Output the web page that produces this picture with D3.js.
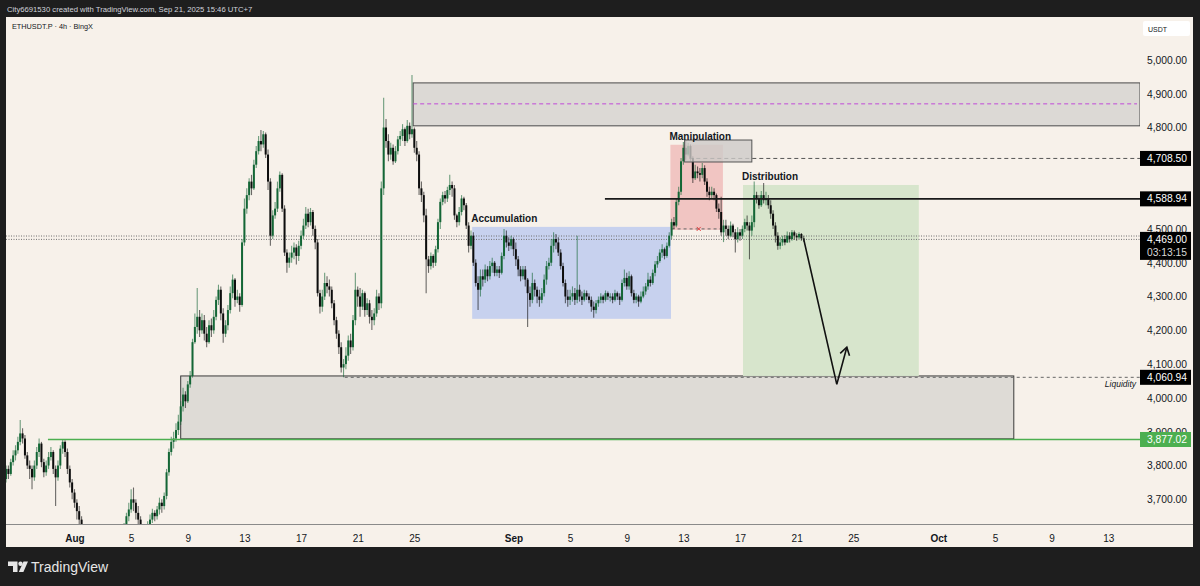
<!DOCTYPE html>
<html>
<head>
<meta charset="utf-8">
<script src="https://cdn.jsdelivr.net/npm/d3@7"></script>
<style>
    html, body { margin: 0; padding: 0; background: #1e1e1e; }
    svg { display: block; font-family: "Liberation Sans", Arial, sans-serif; }
</style>
</head>
<body>
<svg id="chart" width="1200" height="586"></svg>
<script>
// ETHUSDT.P 4h candles, first one opens Jul 27 00:00 (chart time)
const firstCandle = "2025-07-27T00:00";
const firstOpen = 3750;

const closes = [
    3760,3790,3775,3810,3830,3845, 3870,3895,3880,3830,3800,3790, 3765,3800,3840,3865,3810,3780,
    3800,3825,3840,3790,3765,3800, 3850,3870,3840,3790,3750,3720, 3690,3665,3640,3590,3540,3500,
    3480,3450,3420,3400,3380,3390, 3400,3430,3460,3480,3500,3490, 3520,3550,3590,3620,3650,3670,
    3700,3690,3660,3640,3610,3590, 3600,3620,3640,3660,3650,3670, 3690,3680,3710,3780,3840,3870,
    3880,3905,3930,3975,4010,3990, 4040,4065,4165,4210,4240,4200, 4230,4190,4165,4215,4200,4240,
    4290,4320,4250,4190,4215,4260, 4310,4350,4290,4300,4275,4460, 4560,4600,4640,4620,4690,4730,
    4760,4750,4780,4720,4640,4480, 4540,4560,4620,4660,4560,4430, 4400,4415,4430,4445,4420,4450,
    4480,4510,4545,4520,4550,4500, 4460,4310,4270,4300,4340,4330, 4320,4280,4230,4190,4150,4090,
    4100,4125,4170,4150,4230,4320, 4300,4270,4310,4260,4280,4240, 4230,4250,4300,4280,4620,4800,
    4760,4720,4740,4700,4730,4765, 4775,4795,4760,4805,4780,4795, 4740,4720,4620,4600,4540,4410,
    4390,4420,4400,4440,4520,4580, 4600,4590,4615,4630,4620,4540, 4520,4550,4590,4570,4510,4450,
    4480,4400,4340,4320,4360,4350, 4380,4360,4390,4400,4370,4380, 4370,4420,4480,4460,4450,4470,
    4440,4410,4380,4360,4380,4350, 4310,4290,4340,4320,4300,4290, 4310,4350,4390,4400,4450,4470,
    4460,4430,4390,4340,4300,4290, 4300,4310,4290,4320,4300,4290, 4310,4300,4290,4270,4260,4280,
    4290,4300,4290,4310,4300,4300, 4290,4310,4300,4290,4340,4355, 4330,4360,4310,4290,4300,4285,
    4300,4315,4330,4350,4340,4370, 4395,4405,4430,4440,4420,4450, 4480,4520,4510,4580,4610,4700,
    4740,4720,4745,4710,4650,4670, 4665,4660,4680,4640,4610,4600, 4610,4600,4560,4550,4490,4510,
    4500,4480,4510,4490,4470,4490, 4480,4500,4520,4510,4495,4520, 4600,4590,4570,4600,4585,4590,
    4570,4545,4510,4480,4450,4460, 4470,4460,4480,4470,4490,4480, 4475,4485,4472,4469
];

const highs = [
    3785,3800,3800,3820,3845,3860, 3885,3935,3910,3890,3840,3815, 3800,3815,3855,3880,3870,3820,
    3815,3840,3855,3845,3800,3815, 3860,3878,3875,3850,3800,3760, 3730,3700,3680,3650,3600,3555,
    3520,3495,3465,3430,3415,3410, 3420,3445,3470,3495,3515,3510, 3530,3565,3600,3630,3660,3690,
    3730,3735,3700,3680,3650,3625, 3615,3635,3655,3672,3668,3680, 3705,3700,3720,3790,3850,3885,
    3900,3925,3950,3990,4030,4020, 4050,4080,4175,4250,4325,4260, 4250,4245,4210,4230,4235,4260,
    4300,4335,4330,4265,4230,4275, 4330,4365,4355,4320,4310,4470, 4590,4620,4650,4660,4705,4745,
    4775,4793,4790,4785,4735,4650, 4555,4580,4640,4670,4665,4570, 4440,4430,4450,4460,4455,4465,
    4495,4530,4565,4560,4562,4556, 4510,4470,4320,4320,4370,4360, 4350,4330,4290,4240,4200,4165,
    4115,4150,4185,4190,4245,4370, 4330,4325,4320,4315,4295,4290, 4260,4265,4320,4310,4640,4888,
    4825,4780,4755,4750,4745,4775, 4790,4810,4800,4822,4815,4955, 4800,4760,4730,4640,4610,4560,
    4420,4430,4425,4450,4530,4590, 4610,4612,4625,4660,4640,4630, 4545,4565,4600,4595,4577,4520,
    4495,4490,4410,4360,4380,4380, 4395,4390,4405,4415,4405,4390, 4390,4430,4500,4495,4475,4480,
    4475,4460,4420,4390,4390,4390, 4355,4330,4370,4350,4330,4320, 4325,4365,4405,4415,4470,4490,
    4485,4475,4440,4400,4350,4320, 4320,4330,4325,4480,4335,4315, 4320,4318,4310,4300,4285,4290,
    4300,4310,4305,4318,4315,4310, 4310,4320,4315,4310,4350,4380, 4370,4375,4365,4320,4310,4305,
    4315,4330,4340,4370,4360,4380, 4405,4420,4440,4455,4445,4460, 4490,4530,4535,4590,4625,4710,
    4757,4765,4755,4750,4715,4690, 4685,4680,4695,4688,4650,4625, 4625,4620,4605,4575,4595,4527,
    4527,4510,4522,4515,4500,4505, 4500,4510,4530,4540,4520,4540, 4640,4610,4600,4612,4636,4610,
    4600,4585,4555,4520,4490,4475, 4480,4482,4492,4490,4497,4495, 4487,4490,4488,4480
];

const lows = [
    3735,3750,3760,3770,3800,3815, 3835,3860,3865,3820,3790,3760, 3730,3755,3790,3825,3795,3765,
    3770,3790,3815,3775,3680,3755, 3790,3835,3825,3775,3735,3700, 3675,3640,3620,3570,3520,3470,
    3460,3430,3400,3375,3355,3360, 3375,3390,3420,3450,3470,3470, 3480,3510,3540,3580,3610,3635,
    3660,3665,3640,3620,3590,3560, 3570,3590,3605,3630,3635,3640, 3655,3660,3670,3700,3770,3830,
    3850,3870,3890,3920,3960,3970, 3985,4030,4060,4160,4190,4180, 4190,4170,4150,4160,4180,4190,
    4230,4275,4230,4163,4180,4200, 4250,4295,4270,4280,4255,4270, 4450,4545,4585,4600,4615,4680,
    4720,4730,4740,4710,4615,4450, 4470,4530,4550,4610,4550,4420, 4370,4385,4400,4410,4395,4405,
    4440,4470,4500,4505,4510,4480, 4440,4300,4250,4255,4290,4310, 4300,4265,4215,4175,4130,4075,
    4061,4085,4110,4130,4140,4215, 4270,4240,4260,4240,4245,4220, 4201,4215,4240,4260,4265,4600,
    4740,4700,4705,4690,4695,4720, 4745,4760,4745,4755,4765,4770, 4725,4700,4600,4580,4520,4310,
    4370,4380,4385,4390,4430,4500, 4570,4575,4580,4600,4595,4527, 4505,4510,4540,4555,4500,4430,
    4440,4390,4330,4260,4300,4330, 4340,4345,4350,4370,4360,4360, 4355,4365,4410,4445,4435,4440,
    4420,4390,4360,4345,4350,4330, 4210,4270,4280,4300,4280,4270, 4280,4300,4335,4380,4390,4430,
    4440,4420,4380,4330,4280,4270, 4275,4285,4275,4280,4285,4275, 4285,4290,4280,4255,4237,4250,
    4270,4280,4280,4285,4290,4285, 4280,4285,4290,4275,4285,4330, 4320,4320,4300,4280,4280,4270,
    4280,4295,4305,4320,4330,4335, 4360,4385,4400,4415,4410,4415, 4445,4470,4500,4505,4570,4600,
    4690,4705,4715,4700,4636,4645, 4650,4640,4650,4630,4595,4585, 4590,4585,4550,4530,4480,4461,
    4480,4470,4475,4475,4430,4460, 4465,4470,4490,4495,4410,4480, 4505,4575,4560,4565,4575,4570,
    4560,4530,4500,4460,4438,4440, 4450,4452,4458,4460,4465,4468, 4465,4470,4465,4462
];

// axis ticks
const priceTicks = [3700, 3800, 3900, 4000, 4100, 4200, 4300, 4400, 4500, 4600, 4700, 4800, 4900, 5000];
const dateTicks = ["2025-08-01", "2025-08-05", "2025-08-09", "2025-08-13", "2025-08-17", "2025-08-21", "2025-08-25",
    "2025-09-01", "2025-09-05", "2025-09-09", "2025-09-13", "2025-09-17", "2025-09-21", "2025-09-25",
    "2025-10-01", "2025-10-05", "2025-10-09", "2025-10-13"];

// drawn zones: [start, end, top price, bottom price]
const supplyZone = ["2025-08-24T22:00", null, 4932, 4805];
const supplyMid = 4870;
const demandZone = ["2025-08-08T12:00", "2025-10-06T08:00", 4065, 3879];
const accumulationZone = ["2025-08-29T02:00", "2025-09-12T03:00", 4506, 4234];
const manipulationZone = ["2025-09-12T02:00", "2025-09-15T19:00", 4749, 4497];
const manipulationTop = ["2025-09-13T02:00", "2025-09-17T20:00", 4763, 4698];
const distributionZone = ["2025-09-17T05:00", "2025-09-29T15:00", 4630, 4065];

// horizontal levels: [start, price]
const resistanceLine = ["2025-09-07T11:00", 4588.94];
const highLine = ["2025-09-13T10:00", 4708.50];
const liquidityLine = ["2025-08-20T02:00", 4060.94];
const supportLine = ["2025-07-30T03:00", 3877.02];
const manipulationBase = ["2025-09-12T04:00", "2025-09-15T16:00", 4500];
const manipulationMark = "2025-09-14T02:00";
const lastPrice = 4469.00;
const askPrice = 4479;
const countdown = "03:13:15";

// projected path
const arrowTimes = ["2025-09-21T12:00", "2025-09-23T20:00", "2025-09-24T13:00"];
const arrowPrices = [4469, 4040, 4150];

const t = function (s) { return new Date(s + "Z"); };

const plot = {left: 6, right: 1140, top: 17, bottom: 524};

const xScale = d3.scaleUtc()
    .domain([t("2025-08-01T00:00"), t("2025-10-13T00:00")])
    .range([74.5, 1108.2]);

const yScale = d3.scaleLinear()
    .domain([3627, 5124])
    .range([plot.bottom, 18]);

const upColor = "#146636",
    downColor = "#0d0d0d",
    ink = "#131722";

const svg = d3.select("#chart");
const defs = svg.append("defs");

// frame
svg.append("rect").attr("width", 1200).attr("height", 586).attr("fill", "#1e1e1e");
svg.append("rect")
    .attr("x", 6).attr("y", 17).attr("width", 1187).attr("height", 530)
    .attr("fill", "#f7f1ea");

svg.append("text")
    .attr("x", 7).attr("y", 12)
    .attr("fill", "#d1d4dc")
    .style("font-size", "7.7px")
    .text("City6691530 created with TradingView.com, Sep 21, 2025 15:46 UTC+7");

defs.append("clipPath").attr("id", "plotClip")
    .append("rect")
    .attr("x", plot.left).attr("y", plot.top)
    .attr("width", plot.right - plot.left).attr("height", plot.bottom - plot.top);

const g = svg.append("g").attr("clip-path", "url(#plotClip)");

function zoneRect(z, fill, stroke) {
    var x0 = xScale(t(z[0])),
        x1 = z[1] ? xScale(t(z[1])) : plot.right;
    return g.append("rect")
        .attr("x", x0)
        .attr("y", yScale(z[2]))
        .attr("width", x1 - x0)
        .attr("height", yScale(z[3]) - yScale(z[2]))
        .attr("fill", fill)
        .attr("stroke", stroke || "none")
        .attr("stroke-width", 1);
}

zoneRect(supplyZone, "#dcd9d5", "#4a4a4a");
zoneRect(demandZone, "#dedbd6", "#3a3a3a");
zoneRect(accumulationZone, "#c7d1ee");
zoneRect(distributionZone, "#d7e5cc");
zoneRect(manipulationZone, "#f1c5c2");

// purple middle of the supply zone
g.append("line")
    .attr("x1", xScale(t(supplyZone[0]))).attr("x2", plot.right - 3)
    .attr("y1", yScale(supplyMid)).attr("y2", yScale(supplyMid))
    .attr("stroke", "#c04ad8").attr("stroke-width", 1).attr("stroke-dasharray", "4,3");

// last price dotted lines
[askPrice, lastPrice].forEach(function (p) {
    g.append("line")
        .attr("x1", plot.left).attr("x2", plot.right)
        .attr("y1", yScale(p)).attr("y2", yScale(p))
        .attr("stroke", "#6f6f6f").attr("stroke-width", 1).attr("stroke-dasharray", "1,1.5");
});

// dashed levels
function levelLine(l, color, dash, width) {
    g.append("line")
        .attr("x1", xScale(t(l[0]))).attr("x2", plot.right)
        .attr("y1", yScale(l[1])).attr("y2", yScale(l[1]))
        .attr("stroke", color).attr("stroke-width", width)
        .attr("stroke-dasharray", dash);
}
levelLine(highLine, "#555", "4,3", 1);
levelLine(liquidityLine, "#666", "3,3", 1);

g.append("line")
    .attr("x1", xScale(t(manipulationBase[0]))).attr("x2", xScale(t(manipulationBase[1])))
    .attr("y1", yScale(manipulationBase[2])).attr("y2", yScale(manipulationBase[2]))
    .attr("stroke", "#666").attr("stroke-dasharray", "3,3");

// candles
const candles = closes.map(function (c, i) {
    return {
        t: new Date(t(firstCandle).getTime() + i * 4 * 3600 * 1000),
        o: i === 0 ? firstOpen : closes[i - 1],
        h: highs[i],
        l: lows[i],
        c: c
    };
});

const candleG = g.append("g");

candleG.selectAll("line.wick")
    .data(candles)
    .enter()
    .append("line")
    .attr("class", "wick")
    .attr("x1", function (d) { return xScale(d.t); })
    .attr("x2", function (d) { return xScale(d.t); })
    .attr("y1", function (d) { return yScale(Math.max(d.h, d.o, d.c)); })
    .attr("y2", function (d) { return yScale(Math.min(d.l, d.o, d.c)); })
    .attr("stroke", function (d) { return d.c >= d.o ? upColor : downColor; })
    .attr("stroke-opacity", 0.6)
    .attr("stroke-width", 1.1);

candleG.selectAll("rect.body")
    .data(candles)
    .enter()
    .append("rect")
    .attr("class", "body")
    .attr("x", function (d) { return xScale(d.t) - 1; })
    .attr("width", 2)
    .attr("y", function (d) { return yScale(Math.max(d.o, d.c)); })
    .attr("height", function (d) { return Math.max(1.2, Math.abs(yScale(d.o) - yScale(d.c))); })
    .attr("fill", function (d) { return d.c >= d.o ? upColor : downColor; });

// small grey box at the manipulation high
zoneRect(manipulationTop, "rgba(205,203,200,0.8)", "#555");

// solid levels
levelLine(resistanceLine, "#1a1a1a", null, 1.6);
levelLine(supportLine, "#4caf50", null, 1.5);

// red x on manipulation base
const mx = xScale(t(manipulationMark)), my = yScale(manipulationBase[2]);
g.append("path")
    .attr("d", "M" + (mx - 2) + "," + (my - 2) + "L" + (mx + 2) + "," + (my + 2) +
        "M" + (mx + 2) + "," + (my - 2) + "L" + (mx - 2) + "," + (my + 2))
    .attr("stroke", "#e04040").attr("stroke-width", 1);

// projected arrow
const arrowPts = arrowTimes.map(function (s, i) { return [xScale(t(s)), yScale(arrowPrices[i])]; });
g.append("path")
    .attr("d", d3.line()(arrowPts))
    .attr("fill", "none").attr("stroke", "#111").attr("stroke-width", 1.6);

const tip = arrowPts[2], prev = arrowPts[1];
const ang = Math.atan2(tip[1] - prev[1], tip[0] - prev[0]);
const head = [ang + Math.PI * 0.82, ang - Math.PI * 0.82].map(function (a) {
    return [tip[0] + 9 * Math.cos(a), tip[1] + 9 * Math.sin(a)];
});
g.append("path")
    .attr("d", d3.line()([head[0], tip, head[1]]))
    .attr("fill", "none").attr("stroke", "#111").attr("stroke-width", 1.6);

// zone labels
[[accumulationZone, "Accumulation"], [manipulationZone, "Manipulation"], [distributionZone, "Distribution"]]
    .forEach(function (z) {
        g.append("text")
            .attr("x", xScale(t(z[0][0])) - 1)
            .attr("y", yScale(z[0][2]) - 5)
            .attr("fill", ink)
            .style("font-size", "10px")
            .style("font-weight", "bold")
            .text(z[1]);
    });

g.append("text")
    .attr("x", plot.right - 4)
    .attr("y", yScale(liquidityLine[1]) + 10)
    .attr("text-anchor", "end")
    .attr("fill", ink)
    .style("font-size", "8.5px")
    .style("font-style", "italic")
    .text("Liquidity");

svg.append("text")
    .attr("x", 12).attr("y", 29)
    .attr("fill", ink)
    .style("font-size", "7.3px")
    .text("ETHUSDT.P · 4h · BingX");

// time axis
svg.append("line")
    .attr("x1", 6).attr("x2", 1193)
    .attr("y1", plot.bottom + 0.5).attr("y2", plot.bottom + 0.5)
    .attr("stroke", "#8a8a8a");

const monthFmt = d3.utcFormat("%b"), dayFmt = d3.utcFormat("%-d");
const xAxis = svg.append("g")
    .attr("transform", "translate(0," + (plot.bottom + 8) + ")")
    .call(d3.axisBottom(xScale)
        .tickValues(dateTicks.map(function (s) { return t(s + "T00:00"); }))
        .tickSize(0)
        .tickFormat(function (d) { return d.getUTCDate() === 1 ? monthFmt(d) : dayFmt(d); }));
xAxis.select(".domain").remove();
xAxis.selectAll("text")
    .attr("fill", ink)
    .style("font-size", "10px")
    .style("font-family", "Liberation Sans, Arial, sans-serif")
    .style("font-weight", function (d) { return d.getUTCDate() === 1 ? "bold" : "normal"; });

// price tags shown on the axis
const fmt = d3.format(",.2f");
const tags = [
    {p: highLine[1], fill: "#000", lines: [fmt(highLine[1])]},
    {p: resistanceLine[1], fill: "#000", lines: [fmt(resistanceLine[1])]},
    {p: lastPrice, fill: "#000", lines: [fmt(lastPrice), countdown]},
    {p: liquidityLine[1], fill: "#000", lines: [fmt(liquidityLine[1])]},
    {p: supportLine[1], fill: "#4caf50", lines: [fmt(supportLine[1])]}
];
tags.forEach(function (d) {
    d.y0 = yScale(d.p) - 7.5;
    d.h = d.lines.length > 1 ? 28 : 15;
});

// tick labels are hidden where a tag covers them
var axisClipPath = "M" + plot.right + ",17h53v530h-53z";
tags.forEach(function (d) {
    axisClipPath += "M" + plot.right + "," + d.y0 + "h53v" + d.h + "h-53z";
});
defs.append("clipPath").attr("id", "axisClip")
    .append("path")
    .attr("d", axisClipPath)
    .attr("clip-rule", "evenodd");

// a tick fully under a tag is not drawn at all
const shownTicks = priceTicks.filter(function (p) {
    return !tags.some(function (d) { return Math.abs(yScale(p) - yScale(d.p)) < 3.5; });
});

const yAxis = svg.append("g")
    .attr("clip-path", "url(#axisClip)")
    .append("g")
    .attr("transform", "translate(" + plot.right + ",0)")
    .call(d3.axisRight(yScale)
        .tickValues(shownTicks)
        .tickSize(0)
        .tickFormat(fmt));
yAxis.select(".domain").remove();
yAxis.selectAll("text")
    .attr("x", 47)
    .attr("text-anchor", "end")
    .attr("fill", ink)
    .style("font-size", "10.3px")
    .style("font-family", "Liberation Sans, Arial, sans-serif");

svg.append("rect")
    .attr("x", 1143).attr("y", 21).attr("width", 47).attr("height", 15).attr("rx", 2)
    .attr("fill", "#ffffff");
svg.append("text")
    .attr("x", 1148).attr("y", 31.5)
    .attr("fill", ink)
    .style("font-size", "7px")
    .text("USDT");

tags.forEach(function (d) {
    svg.append("rect")
        .attr("x", plot.right).attr("y", d.y0)
        .attr("width", 51).attr("height", d.h)
        .attr("fill", d.fill);
    d.lines.forEach(function (s, i) {
        svg.append("text")
            .attr("x", 1187).attr("y", d.y0 + 11 + i * 13)
            .attr("text-anchor", "end")
            .attr("fill", i === 0 ? "#ffffff" : "#d8d8d8")
            .style("font-size", "10.3px")
            .text(s);
    });
});

// footer logo
const logo = svg.append("g").attr("fill", "#e6e6e6");
logo.append("path").attr("d", "M8,561.5h9.5v10.5h-4.5v-6h-5z");
logo.append("circle").attr("cx", 20.5).attr("cy", 563.8).attr("r", 2.2);
logo.append("path").attr("d", "M23.5,561.5h4.5l-4.6,10.5h-4.6z");
svg.append("text")
    .attr("x", 31).attr("y", 572)
    .attr("fill", "#e6e6e6")
    .style("font-size", "14px")
    .text("TradingView");
</script>
</body>
</html>
